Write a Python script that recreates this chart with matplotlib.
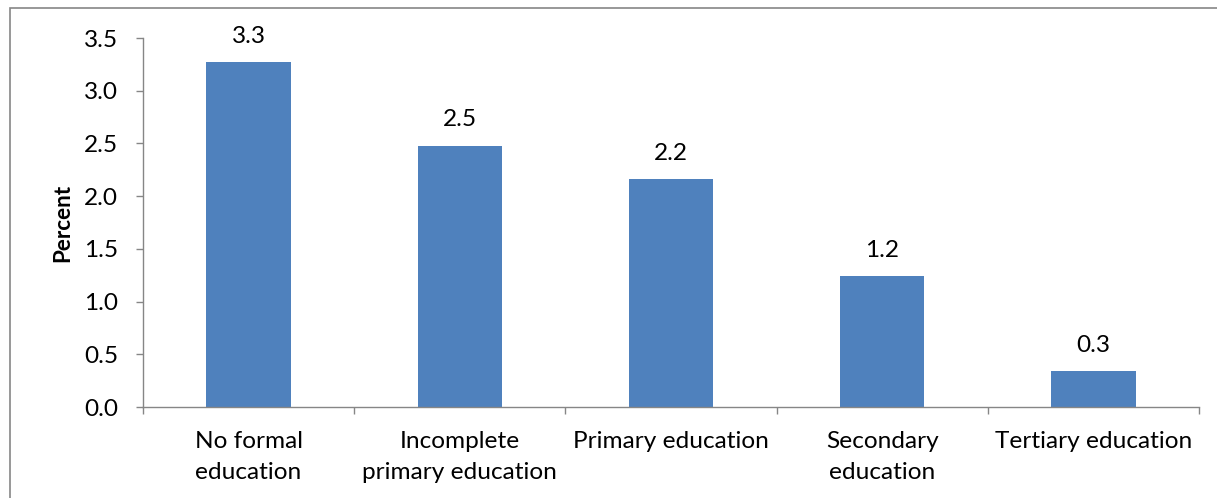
import matplotlib
matplotlib.use("Agg")
import matplotlib.pyplot as plt
from matplotlib.patches import Rectangle

categories = ["No formal\neducation", "Incomplete\nprimary education",
              "Primary education", "Secondary\neducation", "Tertiary education"]
values = [3.27, 2.48, 2.16, 1.24, 0.34]
y_ticks = [0.0, 0.5, 1.0, 1.5, 2.0, 2.5, 3.0, 3.5]

W, H, DPI = 1217, 498, 100
plt.rcParams["font.family"] = ["Lato", "DejaVu Sans"]
FS = 17.6

fig = plt.figure(figsize=(W / DPI, H / DPI), dpi=DPI)
fig.patch.set_facecolor("white")
ax = fig.add_axes([143 / W, (H - 407) / H, (1199 - 143) / W, (407 - 38) / H])

axis_grey = "#868686"
bar_color = "#4F81BD"

x = list(range(len(categories)))
bars = ax.bar(x, values, width=0.4, color=bar_color, zorder=2)

for xi, v in zip(x, values):
    ax.annotate(f"{v:.1f}", (xi, v), xytext=(0, 11), textcoords="offset points",
                ha="center", va="bottom", fontsize=FS, color="black")

ax.set_xlim(-0.5, len(categories) - 0.5)
ax.set_ylim(0, 3.5)
ax.set_yticks(y_ticks)
ax.set_yticklabels([f"{t:.1f}" for t in y_ticks], fontsize=FS)

# boundary ticks on the category axis, labels centred on each bar
ax.set_xticks([i - 0.5 for i in range(len(categories) + 1)])
ax.set_xticklabels([])
ax.set_xticks(x, minor=True)
ax.set_xticklabels(categories, minor=True, fontsize=FS, linespacing=1.6)
ax.tick_params(axis="x", which="minor", length=0, pad=17)
ax.tick_params(axis="x", which="major", length=5, color=axis_grey, width=1)
ax.tick_params(axis="y", length=5, color=axis_grey, width=1, pad=13)

for side in ("top", "right"):
    ax.spines[side].set_visible(False)
for side in ("left", "bottom"):
    ax.spines[side].set_color(axis_grey)
    ax.spines[side].set_linewidth(1)

ax.set_ylabel("Percent", fontsize=FS * 0.92, fontweight="bold", labelpad=8)

# outer chart-area frame
fig.patches.append(Rectangle((10 / W, -0.1), 1.2, (H - 8) / H + 0.1,
                             transform=fig.transFigure, fill=False,
                             edgecolor=axis_grey, linewidth=1.2, clip_on=False))

fig.savefig("out.png", dpi=DPI)
